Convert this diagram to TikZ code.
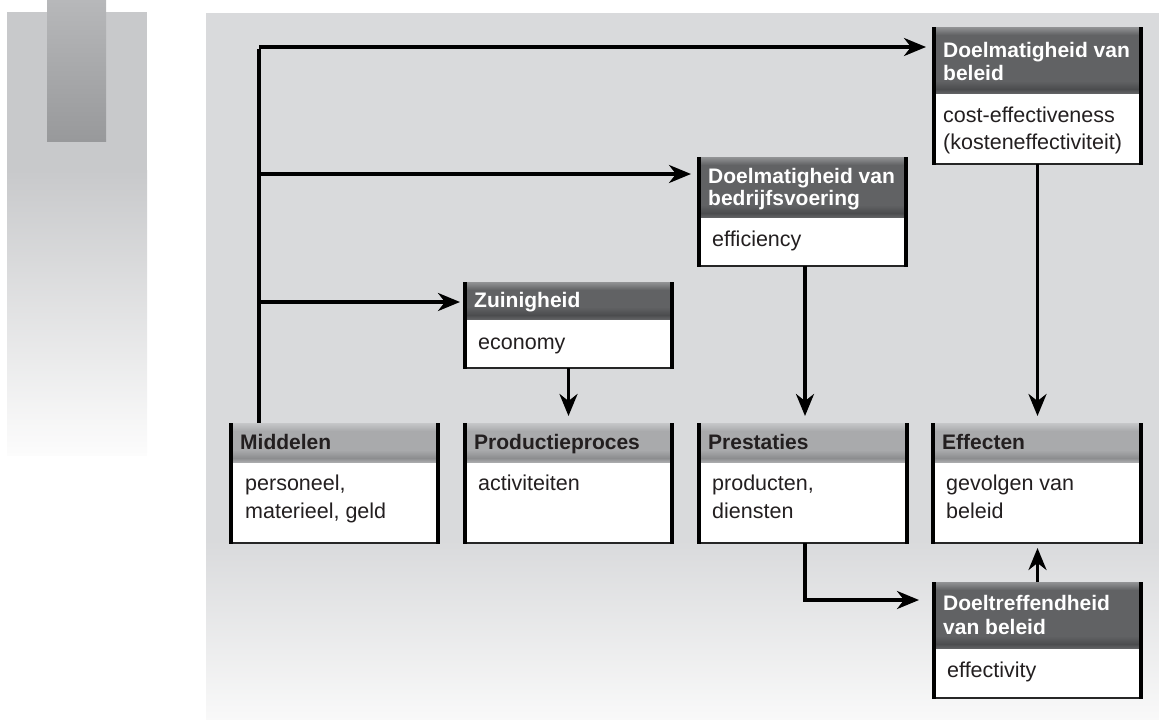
\documentclass[tikz,border=0pt]{standalone}
\usepackage{fontspec}
\setmainfont{Liberation Sans}
\usetikzlibrary{arrows.meta,fit}
\definecolor{panel}{HTML}{D9DADC}
\definecolor{lmain}{HTML}{A9AAAC}
\definecolor{ltop}{HTML}{C6C7C9}
\definecolor{lbot}{HTML}{8C8D8F}
\definecolor{dmain}{HTML}{616264}
\definecolor{dtop}{HTML}{929395}
\definecolor{dbot}{HTML}{4B4C4E}
\definecolor{ink}{HTML}{231F20}
\definecolor{barA}{HTML}{C8C9CB}
\definecolor{barB}{HTML}{FCFCFC}
\definecolor{tabA}{HTML}{B7B8BA}
\definecolor{tabB}{HTML}{98999B}
\definecolor{panelB}{HTML}{F9F9F9}
\newcommand\hdfont{\fontsize{21}{22}\selectfont\bfseries}
\newcommand\bdfont{\fontsize{21.5}{22}\selectfont}
\newcommand\panelbox[7]{%
  \fill[white] (#2,#3) rectangle (#4,#5);
  \fill[#7main] (#2,#3) rectangle (#4,#6);
  \shade[top color=#7top,bottom color=#7main] (#2,#3) rectangle (#4,{#3+8});
  \shade[top color=#7main,bottom color=#7bot] (#2,{#6-12}) rectangle (#4,{#6-4});
  \shade[top color=#7bot,bottom color=#7main] (#2,{#6-4}) rectangle (#4,#6);
  \draw[line width=1.5pt,black!85] (#2,#5) -- (#4,#5);
  \draw[line width=4.5pt] (#2,#3) -- (#2,{#5+0.75}) (#4,#3) -- (#4,{#5+0.75});
  \coordinate (#1a) at (#2,#3);
  \coordinate (#1b) at (#4,#5);
  \node[fit=(#1a)(#1b),inner sep=0pt,outer sep=0pt] (#1) {};
}
\tikzset{
  hd/.style={anchor=base west,inner sep=0pt,font=\hdfont,text=ink},
  hdw/.style={anchor=base west,inner sep=0pt,font=\hdfont,text=white},
  bd/.style={anchor=base west,inner sep=0pt,font=\bdfont,text=ink},
  arr/.style={line width=3.5pt,-{Stealth[length=22pt,width=18pt,inset=7pt]}},
  ln/.style={line width=3.5pt}
}
\begin{document}
\begin{tikzpicture}[x=1pt,y=-1pt]
\useasboundingbox (0,0) rectangle (1159,720);
% left decoration
\fill[barA] (7,12) rectangle (147,170);
\shade[top color=barA,bottom color=barB] (7,170) rectangle (147,455);
\shade[top color=tabA,bottom color=tabB] (47,0) rectangle (106,141);
% panel
\fill[panel] (206,13) rectangle (1159,540);
\shade[top color=panel,bottom color=panelB] (206,540) rectangle (1159,720);
% boxes
\panelbox{dmb}{934}{27}{1141}{164}{93}{d}
\panelbox{dmbv}{699}{157}{906}{266}{217}{d}
\panelbox{zuin}{465}{282}{672}{368}{319}{d}
\panelbox{mid}{231}{423}{438}{543}{462}{l}
\panelbox{prod}{465}{423}{672}{543}{462}{l}
\panelbox{pres}{699}{423}{907}{543}{462}{l}
\panelbox{eff}{933}{423}{1141}{543}{462}{l}
\panelbox{dtr}{934}{582}{1141}{698}{648}{d}
% texts
\node[hdw] (t1) at (943,57) {Doelmatigheid van};
\node[hdw] (t2) at (943,80) {beleid};
\node[bd] (t3) at (943,122) {cost-effectiveness};
\node[bd] (t4) at (943,149) {(kosteneffectiviteit)};
\node[hdw] (t5) at (708,183) {Doelmatigheid van};
\node[hdw] (t6) at (708,205) {bedrijfsvoering};
\node[bd] (t7) at (712,246) {efficiency};
\node[hdw] (t8) at (474,307) {Zuinigheid};
\node[bd] (t9) at (478,349) {economy};
\node[hd] (t10) at (240,449) {Middelen};
\node[bd] (t11) at (245,490) {personeel,};
\node[bd] (t12) at (245,518) {materieel, geld};
\node[hd] (t13) at (474,449) {Productieproces};
\node[bd] (t14) at (478,490) {activiteiten};
\node[hd] (t15) at (708,449) {Prestaties};
\node[bd] (t16) at (712,490) {producten,};
\node[bd] (t17) at (712,518) {diensten};
\node[hd] (t18) at (942,449) {Effecten};
\node[bd] (t19) at (946,490) {gevolgen van};
\node[bd] (t20) at (946,518) {beleid};
\node[hdw] (t21) at (943,610) {Doeltreffendheid};
\node[hdw] (t22) at (943,634) {van beleid};
\node[bd] (t23) at (947,677) {effectivity};
% connectors
\coordinate (c1) at (259,47);
\coordinate (c2) at (259,174);
\coordinate (c3) at (259,302);
\coordinate (elbow) at (805,600);
\draw[ln] ([yshift=-1.75pt]c1) -- (c1 |- mid.north);
\draw[arr,shorten >=8pt] (c1) -- (c1 -| dmb.west);
\draw[arr,shorten >=8pt] (c2) -- (c2 -| dmbv.west);
\draw[arr,shorten >=5pt] (c3) -- (c3 -| zuin.west);
\draw[arr,shorten >=7pt] (zuin.south) -- (zuin.south |- prod.north);
\draw[arr,shorten >=7pt] (805,266) coordinate (d1) -- (d1 |- pres.north);
\draw[arr,shorten >=7pt] (dmb.south) -- (dmb.south |- eff.north);
\draw[arr,shorten >=15pt] (elbow |- pres.south) -- (elbow) -- (elbow -| dtr.west);
\draw[arr,shorten >=5pt] (dtr.north) -- (dtr.north |- eff.south);
\end{tikzpicture}
\end{document}
